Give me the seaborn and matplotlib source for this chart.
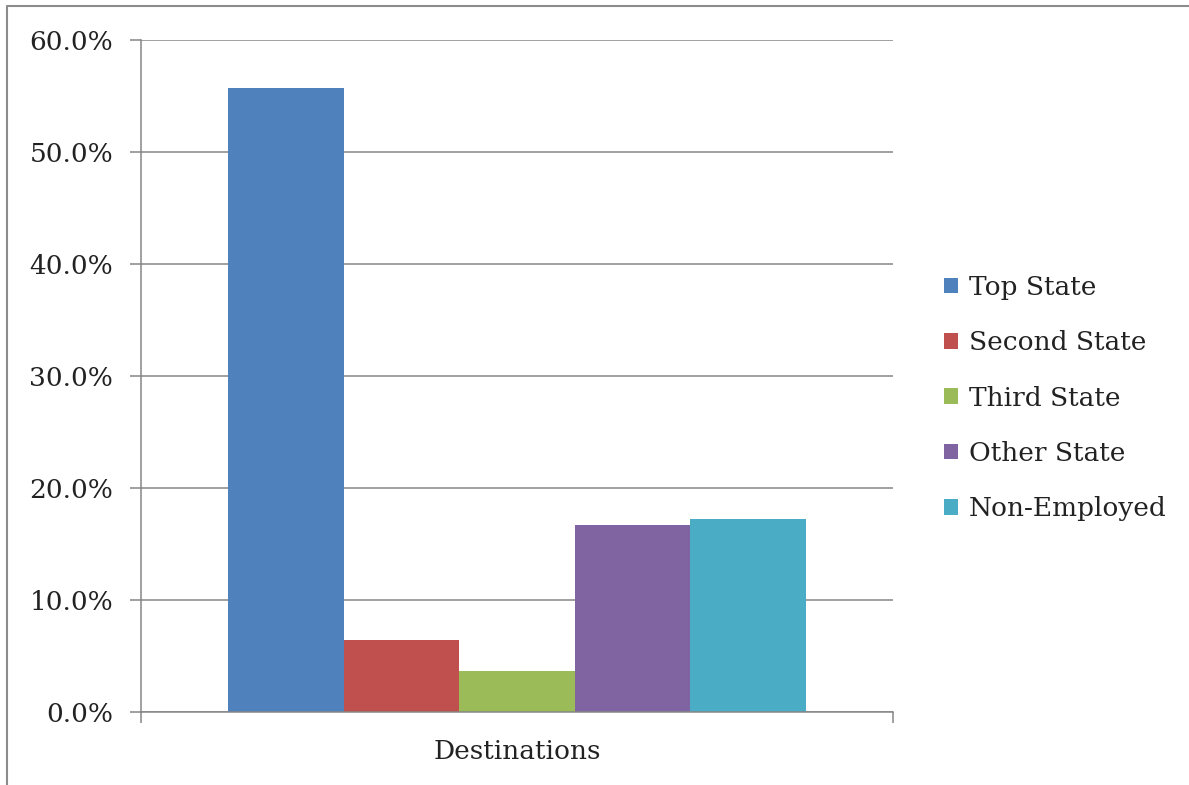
import matplotlib
matplotlib.use("Agg")
import matplotlib.pyplot as plt
import seaborn as sns
import pandas as pd
from matplotlib.ticker import PercentFormatter, MultipleLocator
from matplotlib.patches import Rectangle
from matplotlib.lines import Line2D

categories = ["Destinations"]
series = ["Top State", "Second State", "Third State", "Other State", "Non-Employed"]
values = [55.7, 6.4, 3.7, 16.7, 17.2]
colors = ["#4F81BD", "#C0504D", "#9BBB59", "#8064A2", "#4BACC6"]

df = pd.DataFrame({"cat": categories * len(series), "series": series, "value": values})

sns.set_style("white")
plt.rcParams["font.family"] = ["DejaVu Serif"]

fig = plt.figure(figsize=(11.89, 7.85), dpi=100)
ax = fig.add_axes([141/1189, 1-712/785, (893-141)/1189, (712-40)/785])

sns.barplot(data=df, x="cat", y="value", hue="series", hue_order=series,
            palette=colors, width=0.769, gap=0, ax=ax, legend=False,
            edgecolor="none", linewidth=0, saturation=1)

ax.set_xlim(-0.5, 0.5)
ax.set_ylim(0, 60)
ax.yaxis.set_major_locator(MultipleLocator(10))
ax.yaxis.set_major_formatter(PercentFormatter(decimals=1))
ax.grid(axis="y", color="#868686", linewidth=1.1)
ax.set_axisbelow(True)
for s in ["top", "right"]:
    ax.spines[s].set_visible(False)
for s in ["left", "bottom"]:
    ax.spines[s].set_color("#868686")
    ax.spines[s].set_linewidth(1.1)
ax.tick_params(axis="y", which="major", length=8, width=1.1, color="#868686",
               labelsize=19, pad=12, left=True, direction="out", labelcolor="#222222")
ax.set_ylabel("")
ax.set_xlabel("")
ax.set_xticks([-0.5, 0.5])
ax.set_xticklabels(["", ""])
ax.tick_params(axis="x", length=8, width=1.1, color="#868686", bottom=True, direction="out")
ax.text(0.5, -0.04, categories[0], transform=ax.transAxes, ha="center", va="top",
        fontsize=19, color="#222222")

handles = [Rectangle((0, 0), 1, 1, facecolor=c, edgecolor="none") for c in colors]
leg = fig.legend(handles, series, loc="center left", bbox_to_anchor=(933/1189, 1-398/785),
                 frameon=False, fontsize=19, handlelength=0.55, handleheight=0.55,
                 handletextpad=0.4, labelspacing=1.15, borderaxespad=0)
for t in leg.get_texts():
    t.set_color("#222222")

fig.add_artist(Line2D([7/1189, 7/1189, 1.0], [0.0, 1-6/785, 1-6/785],
                      transform=fig.transFigure, color="#8c8c8c", linewidth=1.5))

fig.savefig("out.png", dpi=100)
